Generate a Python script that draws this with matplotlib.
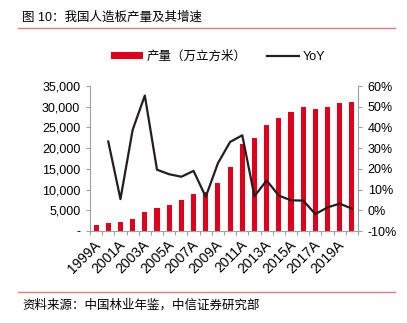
import matplotlib
matplotlib.use("Agg")
import matplotlib.pyplot as plt
import matplotlib.transforms as mtransforms
from matplotlib.ticker import FuncFormatter, FixedLocator
from matplotlib.patches import Patch
from matplotlib.lines import Line2D

plt.rcParams['font.family'] = ['Liberation Sans', 'Noto Sans CJK SC', 'DejaVu Sans']

years = [f"{y}A" for y in range(1999, 2021)]
production = [1503, 2002, 2111, 2930, 4553, 5446, 6393, 7429, 8838, 9410, 11547,
              15361, 20919, 22336, 25560, 27372, 28680, 30042, 29486, 29909, 30859, 31100]
yoy = [None, 33.2, 5.4, 38.8, 55.4, 19.6, 17.4, 16.2, 19.0, 6.5, 22.7,
       33.0, 36.2, 6.8, 14.4, 7.1, 4.8, 4.7, -1.85, 1.4, 3.2, 0.8]
left_ticks = [0, 5000, 10000, 15000, 20000, 25000, 30000, 35000]
right_ticks = [-10, 0, 10, 20, 30, 40, 50, 60]

title = "图 10：我国人造板产量及其增速"
source = "资料来源：中国林业年鉴，中信证券研究部"
bar_label = "产量（万立方米）"
line_label = "YoY"

RED = "#E0001B"
DARK = "#231F20"
GRAY = "#A0A0A0"
FS = 9

W, H = 407, 323
fig = plt.figure(figsize=(W / 100, H / 100), dpi=100)
ax = fig.add_axes([90 / W, 1 - 231 / H, (358 - 90) / W, (231 - 86) / H])
ax2 = ax.twinx()

x = list(range(len(years)))
ax.bar(x, production, width=0.42, color=RED, zorder=2)
xs = [i for i, v in zip(x, yoy) if v is not None]
ys = [v for v in yoy if v is not None]
ax2.plot(xs, ys, color=DARK, lw=1.6, zorder=3)

ax.set_xlim(-0.5, len(years) - 0.5)
ax.set_ylim(0, 35000)
ax2.set_ylim(-10, 60)

ax.yaxis.set_major_locator(FixedLocator(left_ticks))
ax.yaxis.set_major_formatter(FuncFormatter(lambda v, p: "-" if v == 0 else f"{int(v):,}"))
ax2.yaxis.set_major_locator(FixedLocator(right_ticks))
ax2.yaxis.set_major_formatter(FuncFormatter(lambda v, p: f"{int(v)}%"))

ax.set_xticks(x[::2])
ax.set_xticklabels(years[::2], rotation=45, ha='right', va='top', rotation_mode='anchor')
ax.set_xticks([i - 0.5 for i in range(len(years) + 1)], minor=True)
ax.tick_params(axis='x', which='major', length=0, pad=5, labelsize=10, colors='black')
ax.tick_params(axis='x', which='minor', length=3, color=GRAY, width=0.8)
ax.tick_params(axis='y', length=3, color=GRAY, width=0.8, labelsize=FS, pad=4)
ax2.tick_params(axis='y', length=3, color=GRAY, width=0.8, labelsize=FS, pad=4)
shift = mtransforms.ScaledTranslation(-2.5 / 100, 0, fig.dpi_scale_trans)
for lbl in ax.get_xticklabels():
    lbl.set_transform(lbl.get_transform() + shift)

for a in (ax, ax2):
    a.spines['top'].set_visible(False)
    for s in ('left', 'right', 'bottom'):
        a.spines[s].set_color(GRAY)
        a.spines[s].set_linewidth(0.8)
ax.spines['right'].set_visible(False)
ax2.spines['left'].set_visible(False)
ax2.spines['bottom'].set_visible(False)
ax.set_zorder(ax2.get_zorder() - 1)
ax.patch.set_visible(True)
ax2.patch.set_visible(False)

# title and source
fig.text(22 / W, 1 - 18 / H, title, fontsize=FS, va='center', ha='left')
fig.add_artist(Line2D([18 / W, 395 / W], [1 - 28 / H, 1 - 28 / H], color="#E37B7B", lw=1.0))
fig.add_artist(Line2D([18 / W, 395 / W], [1 - 292 / H, 1 - 292 / H], color="#E37B7B", lw=1.0))
fig.text(22 / W, 1 - 305 / H, source, fontsize=FS, va='center', ha='left')

handles = [Patch(facecolor=RED, edgecolor='none'), Line2D([], [], color=DARK, lw=1.6)]
fig.legend(handles, [bar_label, line_label], loc='center', bbox_to_anchor=(218 / W, 1 - 57 / H),
           ncol=2, frameon=False, fontsize=FS, handlelength=2.6, handleheight=0.55,
           handletextpad=0.3, columnspacing=1.6)

fig.savefig("out.png", dpi=100)
